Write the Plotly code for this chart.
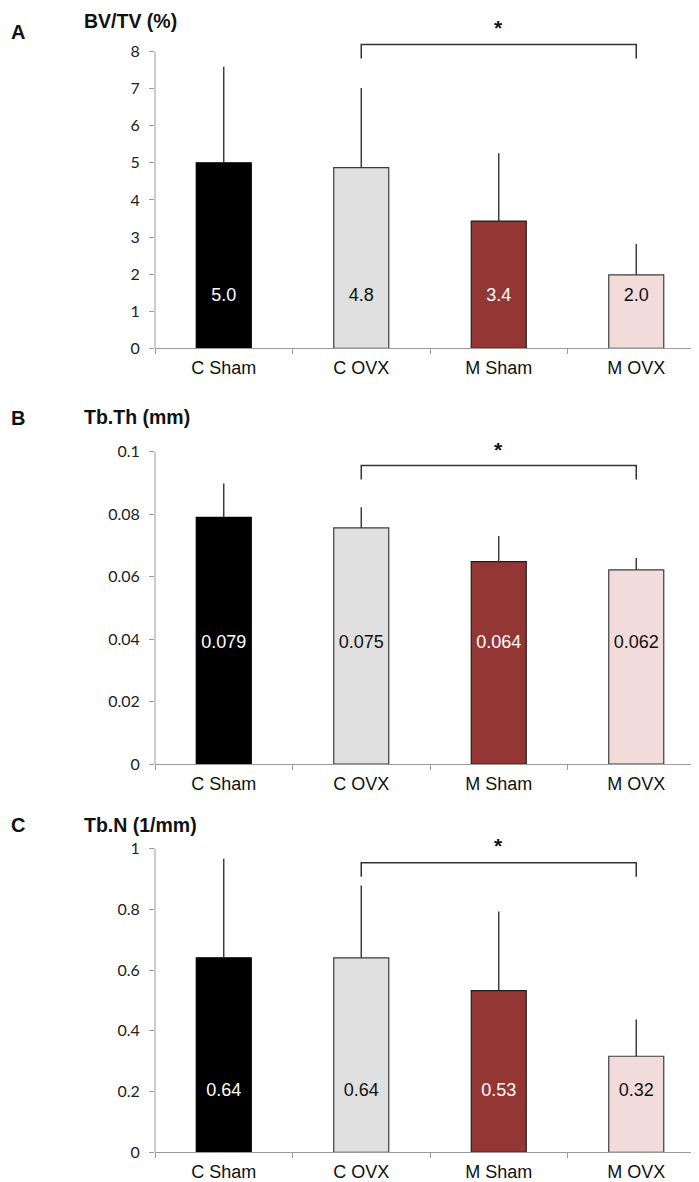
import plotly.graph_objects as go
from plotly.subplots import make_subplots

groups = ["C Sham", "C OVX", "M Sham", "M OVX"]
bar_colors = ["#000000", "#e0e0e0", "#943634", "#f2dcdb"]
edge_colors = ["#000000", "#3c3c3c", "#1e1e1e", "#3c3c3c"]
label_colors = ["#ffffff", "#111111", "#ffffff", "#111111"]

# panel A - BV/TV (%)
bvtv = [5.0, 4.87, 3.43, 1.98]
bvtv_sd = [2.59, 2.15, 1.83, 0.83]
bvtv_text = ["5.0", "4.8", "3.4", "2.0"]

# panel B - Tb.Th (mm)
tbth = [0.079, 0.0756, 0.0648, 0.0622]
tbth_sd = [0.0108, 0.0066, 0.0082, 0.0038]
tbth_text = ["0.079", "0.075", "0.064", "0.062"]

# panel C - Tb.N (1/mm)
tbn = [0.64, 0.64, 0.532, 0.316]
tbn_sd = [0.326, 0.238, 0.261, 0.121]
tbn_text = ["0.64", "0.64", "0.53", "0.32"]

panels = [
    dict(letter="A", title="BV/TV (%)", vals=bvtv, sd=bvtv_sd, text=bvtv_text,
         ticks=[0, 1, 2, 3, 4, 5, 6, 7, 8], ticktext=["0", "1", "2", "3", "4", "5", "6", "7", "8"],
         ymax=8, top=9.12, label_y=1.39, bracket=(8.19, 7.81), star=8.64,
         domain=[1 - 343 / 1182, 1 - 2 / 1182], title_y=1 - 13 / 1182, letter_y=1 - 24 / 1182),
    dict(letter="B", title="Tb.Th (mm)", vals=tbth, sd=tbth_sd, text=tbth_text,
         ticks=[0, 0.02, 0.04, 0.06, 0.08, 0.1], ticktext=["0", "0.02", "0.04", "0.06", "0.08", "0.1"],
         ymax=0.1, top=0.107, label_y=0.0385, bracket=(0.0956, 0.0911), star=0.1006,
         domain=[1 - 762 / 1182, 1 - 425 / 1182], title_y=1 - 412 / 1182, letter_y=1 - 413 / 1182),
    dict(letter="C", title="Tb.N (1/mm)", vals=tbn, sd=tbn_sd, text=tbn_text,
         ticks=[0, 0.2, 0.4, 0.6, 0.8, 1], ticktext=["0", "0.2", "0.4", "0.6", "0.8", "1"],
         ymax=1, top=1.062, label_y=0.2, bracket=(0.953, 0.907), star=1.01,
         domain=[1 - 1153 / 1182, 1 - 828 / 1182], title_y=1 - 823 / 1182, letter_y=1 - 823 / 1182),
]

fig = make_subplots(rows=3, cols=1)

axis_grey = "#9a9a9a"
tick_font = dict(family="Lato, Noto Sans, sans-serif", size=16, color="#222222")
cat_font = dict(family="Liberation Sans, Arial, sans-serif", size=18, color="#111111")

for i, p in enumerate(panels):
    row = i + 1
    fig.add_trace(go.Bar(
        x=groups, y=p["vals"], width=0.4,
        marker=dict(color=bar_colors, line=dict(color=edge_colors, width=1.2)),
        error_y=dict(type="data", symmetric=False, array=p["sd"], arrayminus=[0, 0, 0, 0],
                     width=0, thickness=1.4, color="#333333"),
        showlegend=False, hoverinfo="skip",
    ), row=row, col=1)
    fig.add_trace(go.Scatter(
        x=groups, y=[p["label_y"]] * 4, mode="text", text=p["text"],
        textfont=dict(family="Liberation Sans, Arial, sans-serif", size=18, color=label_colors),
        showlegend=False, hoverinfo="skip",
    ), row=row, col=1)

    xname = "xaxis" if row == 1 else f"xaxis{row}"
    yname = "yaxis" if row == 1 else f"yaxis{row}"
    yref = "y" if row == 1 else f"y{row}"
    xref = "x" if row == 1 else f"x{row}"

    fig.layout[xname].update(
        domain=[147 / 699, 697 / 699], showline=True, linecolor=axis_grey, linewidth=1,
        ticks="outside", tickson="boundaries", ticklen=5, tickcolor=axis_grey,
        tickfont=cat_font, showgrid=False, zeroline=False, ticklabelstandoff=3,
    )
    fig.layout[yname].update(
        domain=p["domain"], range=[0, p["top"]], showline=False, showgrid=False, zeroline=False,
        tickvals=p["ticks"], ticktext=p["ticktext"], ticks="outside", ticklen=5,
        tickcolor=axis_grey, tickfont=tick_font, ticklabelstandoff=6,
    )

    # y axis line only up to the top tick
    fig.add_shape(type="line", xref=f"{xref} domain", yref=yref, x0=0, x1=0, y0=0, y1=p["ymax"],
                  line=dict(color=axis_grey, width=1))

    # significance bracket between C OVX and M OVX
    hi, lo = p["bracket"]
    fig.add_shape(type="path", xref=xref, yref=yref,
                  path=f"M 1,{lo} L 1,{hi} L 3,{hi} L 3,{lo}",
                  line=dict(color="#333333", width=1.5))
    fig.add_annotation(x=2, y=p["star"], xref=xref, yref=yref, text="<b>*</b>",
                       showarrow=False, font=dict(family="Liberation Sans, Arial", size=21, color="#111111"))

    fig.add_annotation(x=74 / 699, y=p["title_y"], xref="paper", yref="paper", xanchor="left",
                       yanchor="middle", text=f"<b>{p['title']}</b>", showarrow=False,
                       font=dict(family="Liberation Sans, Arial", size=19.5, color="#111111"))
    fig.add_annotation(x=1 / 699, y=p["letter_y"], xref="paper", yref="paper", xanchor="left",
                       yanchor="middle", text=f"<b>{p['letter']}</b>", showarrow=False,
                       font=dict(family="Liberation Sans, Arial", size=20, color="#111111"))

fig.update_layout(
    width=699, height=1182,
    margin=dict(l=0, r=0, t=0, b=0),
    paper_bgcolor="white", plot_bgcolor="white",
    bargap=0.6,
)

fig.write_html("out.html")
